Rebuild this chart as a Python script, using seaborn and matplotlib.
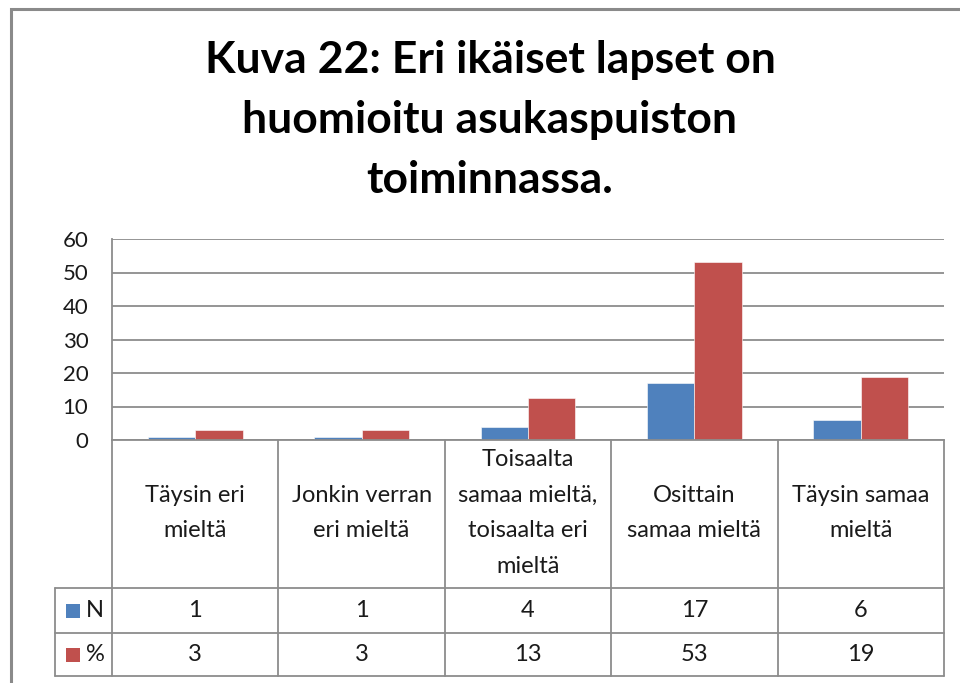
import matplotlib
matplotlib.use("Agg")
import matplotlib.pyplot as plt
import matplotlib.transforms as mtransforms
from matplotlib.patches import Rectangle
from matplotlib.lines import Line2D
import seaborn as sns
import pandas as pd

# ---- data ----
categories = ["Täysin eri\nmieltä", "Jonkin verran\neri mieltä",
              "Toisaalta\nsamaa mieltä,\ntoisaalta eri\nmieltä",
              "Osittain\nsamaa mieltä", "Täysin samaa\nmieltä"]
series_names = ["N", "%"]
n_values = [1, 1, 4, 17, 6]
pct_values = [3.1, 3.1, 12.5, 53.1, 18.8]
pct_table_labels = ["3", "3", "13", "53", "19"]
y_ticks = [0, 10, 20, 30, 40, 50, 60]
title = "Kuva 22: Eri ikäiset lapset on\nhuomioitu asukaspuiston\ntoiminnassa."

colors = {"N": "#4F81BD", "%": "#C0504D"}
grid_col = "#8C8C8C"
txt_col = "#1A1A1A"

df = pd.DataFrame({
    "cat": categories * 2,
    "series": ["N"] * 5 + ["%"] * 5,
    "value": n_values + pct_values,
})

sns.set_theme(style="white")
plt.rcParams["font.family"] = ["Lato", "DejaVu Sans"]

W, H = 960, 683
fig = plt.figure(figsize=(W / 100, H / 100), dpi=100)

def fx(px):
    return px / W

def fy(py):
    return 1 - py / H

# axes placement in pixel coords
L, R, T, B = 112, 944, 239, 440
ax = fig.add_axes([fx(L), fy(B), fx(R - L), (B - T) / H])

sns.barplot(data=df, x="cat", y="value", hue="series", hue_order=series_names,
            palette=colors, width=0.57, gap=0, ax=ax, legend=False,
            edgecolor="white", linewidth=0.4, saturation=1)

ax.set_xlim(-0.5, 4.5)
ax.set_ylim(0, 60)
ax.set_yticks(y_ticks)
ax.set_yticklabels([str(t) for t in y_ticks], fontsize=16, color=txt_col)
ax.tick_params(axis="y", length=0, pad=17)
ax.set_xticks([])
ax.set_xlabel("")
ax.set_ylabel("")
ax.yaxis.grid(True, color=grid_col, linewidth=1.3)
ax.set_axisbelow(True)
for s in ["top", "right"]:
    ax.spines[s].set_visible(False)
for s in ["left", "bottom"]:
    ax.spines[s].set_color(grid_col)
    ax.spines[s].set_linewidth(1.3)

# ---- data table below the axis ----
trans = mtransforms.blended_transform_factory(ax.transData, fig.transFigure)
row_cat_bot, row_n_bot, row_p_bot = 588, 633, 676
hdr_left = 55
xb = [i - 0.5 for i in range(len(categories) + 1)]
for x in xb:
    fig.add_artist(Line2D([x, x], [fy(B), fy(row_p_bot)], transform=trans,
                          color=grid_col, linewidth=1.3))
for yy in [row_cat_bot, row_n_bot, row_p_bot]:
    fig.add_artist(Line2D([fx(hdr_left), fx(R)], [fy(yy), fy(yy)],
                          transform=fig.transFigure, color=grid_col, linewidth=1.3))
fig.add_artist(Line2D([fx(hdr_left), fx(hdr_left)], [fy(row_cat_bot), fy(row_p_bot)],
                      transform=fig.transFigure, color=grid_col, linewidth=1.3))

tfs = 17
for i, c in enumerate(categories):
    fig.text(i, fy((B + row_cat_bot) / 2 - 1), c, transform=trans, ha="center",
             va="center", fontsize=tfs, color=txt_col, linespacing=1.85,
             multialignment="center")
    fig.text(i, fy((row_cat_bot + row_n_bot) / 2), str(n_values[i]), transform=trans,
             ha="center", va="center", fontsize=tfs, color=txt_col)
    fig.text(i, fy((row_n_bot + row_p_bot) / 2), pct_table_labels[i], transform=trans,
             ha="center", va="center", fontsize=tfs, color=txt_col)

for name, (ytop, ybot) in zip(series_names, [(row_cat_bot, row_n_bot), (row_n_bot, row_p_bot)]):
    yc = (ytop + ybot) / 2
    fig.add_artist(Rectangle((fx(66), fy(yc + 7)), fx(14), 14 / H,
                             transform=fig.transFigure, facecolor=colors[name],
                             edgecolor="none"))
    fig.text(fx(86), fy(yc), name, ha="left", va="center", fontsize=tfs,
             color=txt_col)

# ---- title ----
fig.text(fx(490), fy(120), title, ha="center", va="center", fontsize=32,
         fontweight="bold", linespacing=1.6, color="black")

# ---- outer frame ----
fig.add_artist(Rectangle((fx(11), fy(H + 20)), fx(W + 20), (H + 20 - 9) / H,
                         transform=fig.transFigure, facecolor="none",
                         edgecolor="#8A8A8A", linewidth=2.2))

fig.savefig("out.png", dpi=100)
